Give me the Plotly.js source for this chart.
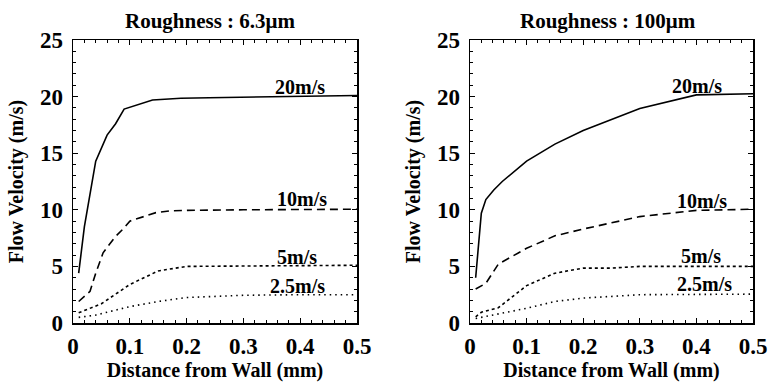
<!DOCTYPE html>
<html><head><meta charset="utf-8">
<script src="https://cdn.plot.ly/plotly-3.0.1.min.js"></script>
<style>html,body{margin:0;padding:0;background:#fff}#c{width:769px;height:382px}</style>
</head><body><div id="c"></div>
<script>
// Left panel: roughness 6.3 um
var x20L = [0.01, 0.02, 0.04, 0.06, 0.075, 0.09, 0.14, 0.19, 0.24, 0.3, 0.4, 0.5];
var y20L = [4.4, 8.5, 14.3, 16.6, 17.6, 18.9, 19.7, 19.85, 19.9, 19.95, 20.05, 20.1];
var x10L = [0.01, 0.03, 0.04, 0.053, 0.074, 0.09, 0.1, 0.146, 0.17, 0.2, 0.3, 0.4, 0.5];
var y10L = [1.9, 2.8, 4.4, 6.2, 7.6, 8.4, 9.0, 9.75, 9.9, 9.95, 10.0, 10.05, 10.05];
var x5L = [0.01, 0.05, 0.1, 0.15, 0.2, 0.3, 0.4, 0.5];
var y5L = [0.9, 1.7, 3.4, 4.6, 5.0, 5.05, 5.1, 5.1];
var x25L = [0.01, 0.04, 0.1, 0.15, 0.2, 0.3, 0.4, 0.5];
var y25L = [0.5, 0.7, 1.45, 1.9, 2.25, 2.45, 2.5, 2.5];
// Right panel: roughness 100 um
var x20R = [0.01, 0.02, 0.028, 0.042, 0.057, 0.1, 0.15, 0.2, 0.3, 0.4, 0.5];
var y20R = [4.0, 9.7, 10.9, 11.75, 12.5, 14.3, 15.8, 17.0, 18.95, 20.15, 20.25];
var x10R = [0.01, 0.028, 0.05, 0.1, 0.15, 0.2, 0.3, 0.4, 0.5];
var y10R = [3.0, 3.5, 5.2, 6.6, 7.7, 8.3, 9.4, 9.95, 10.05];
var x5R = [0.01, 0.02, 0.05, 0.1, 0.15, 0.2, 0.25, 0.3, 0.4, 0.5];
var y5R = [0.55, 0.95, 1.35, 3.3, 4.4, 4.85, 4.85, 5.0, 5.0, 5.0];
var x25R = [0.01, 0.05, 0.1, 0.15, 0.2, 0.3, 0.4, 0.5];
var y25R = [0.4, 0.8, 1.3, 1.9, 2.2, 2.5, 2.55, 2.55];

var speedLabels = ["20m/s", "10m/s", "5m/s", "2.5m/s"];
var panelTitles = ["Roughness : 6.3μm", "Roughness : 100μm"];
var xTitle = "Distance from Wall (mm)";
var yTitle = "Flow Velocity (m/s)";
// label anchor positions (data coords)
var labXL = [0.4, 0.403, 0.394, 0.395], labYL = [20.85, 10.95, 5.83, 3.27];
var labXR = [0.401, 0.41, 0.408, 0.415], labYR = [20.94, 10.78, 5.92, 3.45];

var FONT = "Liberation Serif";
var dashes = ["solid", "8px,5px", "3px,3px", "1.5px,4px"];

function tr(x, y, i, ax) {
  return {x: x, y: y, type: "scatter", mode: "lines", xaxis: ax[0], yaxis: ax[1],
    line: {color: "#000", width: 1.6, dash: dashes[i]}, showlegend: false, hoverinfo: "skip"};
}
var data = [
  tr(x20L, y20L, 0, ["x", "y"]), tr(x10L, y10L, 1, ["x", "y"]),
  tr(x5L, y5L, 2, ["x", "y"]), tr(x25L, y25L, 3, ["x", "y"]),
  tr(x20R, y20R, 0, ["x2", "y2"]), tr(x10R, y10R, 1, ["x2", "y2"]),
  tr(x5R, y5R, 2, ["x2", "y2"]), tr(x25R, y25R, 3, ["x2", "y2"])
];

function xax(dom, anchor) {
  return {domain: dom, anchor: anchor, range: [0, 0.5], dtick: 0.1, tick0: 0,
    ticks: "inside", ticklen: 5, tickwidth: 1, tickcolor: "#000",
    minor: {ticks: "inside", dtick: 0.02, ticklen: 3, tickwidth: 1, tickcolor: "#000"},
    showline: true, linecolor: "#000", linewidth: 1.5, mirror: "ticks",
    showgrid: false, zeroline: false, tickformat: ".1~f",
    tickfont: {family: FONT, size: 23, color: "#000", weight: "bold"},
    ticklabelstandoff: 2, automargin: false,
    title: {text: xTitle, font: {family: FONT, size: 20, color: "#000", weight: "bold"}, standoff: 28},
    fixedrange: true};
}
function yax(dom, anchor) {
  return {domain: dom, anchor: anchor, range: [0, 25], dtick: 5, tick0: 0,
    ticks: "inside", ticklen: 5, tickwidth: 1, tickcolor: "#000",
    minor: {ticks: "inside", dtick: 1, ticklen: 3, tickwidth: 1, tickcolor: "#000"},
    showline: true, linecolor: "#000", linewidth: 1.5, mirror: "ticks",
    showgrid: false, zeroline: false,
    tickfont: {family: FONT, size: 23, color: "#000", weight: "bold"},
    ticklabelstandoff: 4, automargin: false,
    title: {text: yTitle, font: {family: FONT, size: 20, color: "#000", weight: "bold"}, standoff: 11},
    fixedrange: true};
}

var ann = [];
var lf = {family: FONT, size: 20, color: "#000", weight: "bold"};
for (var i = 0; i < 4; i++) {
  ann.push({xref: "x", yref: "y", x: labXL[i], y: labYL[i], text: speedLabels[i], showarrow: false, font: lf, xanchor: "center", yanchor: "middle"});
  ann.push({xref: "x2", yref: "y2", x: labXR[i], y: labYR[i], text: speedLabels[i], showarrow: false, font: lf, xanchor: "center", yanchor: "middle"});
}
var tf = {family: FONT, size: 21, color: "#000", weight: "bold"};
ann.push({xref: "paper", yref: "paper", x: 210/769, y: 1 - 21/382, text: panelTitles[0], showarrow: false, font: tf, xanchor: "center", yanchor: "middle"});
ann.push({xref: "paper", yref: "paper", x: 608/769, y: 1 - 21/382, text: panelTitles[1], showarrow: false, font: tf, xanchor: "center", yanchor: "middle"});

var yd = [1 - 323/382, 1 - 40/382];
var layout = {
  width: 769, height: 382, margin: {l: 0, r: 0, t: 0, b: 0},
  paper_bgcolor: "#fff", plot_bgcolor: "#fff", showlegend: false,
  font: {family: FONT},
  xaxis: xax([73/769, 357/769], "y"), yaxis: yax(yd, "x"),
  xaxis2: xax([470/769, 753/769], "y2"), yaxis2: yax(yd, "x2"),
  annotations: ann
};
Plotly.newPlot("c", data, layout, {staticPlot: true, displayModeBar: false});
</script></body></html>
